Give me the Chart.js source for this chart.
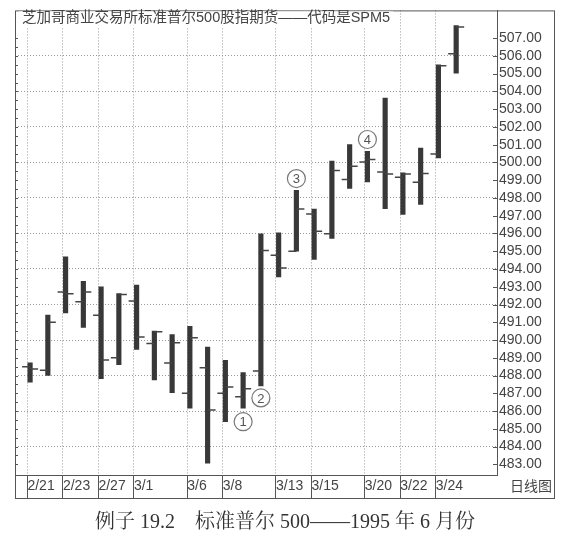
<!DOCTYPE html>
<html>
<head>
<meta charset="utf-8">
<script src="https://cdn.jsdelivr.net/npm/chart.js@4.4.1/dist/chart.umd.min.js"></script>
<style>
  body { margin: 0; background: #fff; }
  canvas { display: block; }
</style>
</head>
<body>
<canvas id="chart" width="570" height="550"></canvas>
<script>
// daily bars, S&P 500 June contract
var days = ['2/21','2/22','2/23','2/24','2/27','2/28','3/1','3/2','3/3','3/6','3/7','3/8','3/9',
            '3/10','3/13','3/14','3/15','3/16','3/17','3/20','3/21','3/22','3/23','3/24','3/27'];
var tickDays = [0, 2, 4, 6, 9, 11, 14, 16, 19, 21, 23];
var high  = [488.72, 491.40, 494.68, 493.30, 493.00, 492.62, 493.10, 490.50, 490.30, 490.77, 489.60, 488.86, 488.16,
             495.98, 496.03, 498.43, 497.37, 500.07, 501.00, 500.63, 503.63, 499.41, 500.81, 505.50, 507.71];
var low   = [487.63, 488.00, 491.53, 490.71, 487.82, 488.61, 489.47, 487.75, 487.03, 486.16, 483.06, 485.40, 486.16,
             487.41, 493.56, 495.00, 494.54, 495.72, 498.53, 498.90, 497.40, 497.07, 497.63, 500.25, 505.03];
var open  = [488.50, 488.30, 492.70, 492.15, 491.40, 489.00, 492.20, 489.81, 488.70, 487.00, 488.44, 487.00, 486.81,
             488.25, 494.78, 495.00, 497.10, 495.98, 499.04, 500.03, 499.46, 499.17, 498.88, 500.48, 506.12];
var close = [488.37, 491.00, 492.60, 492.70, 488.87, 492.57, 490.17, 490.46, 489.85, 490.13, 486.06, 487.35, 487.26,
             495.04, 494.06, 497.38, 496.13, 499.54, 499.78, 500.16, 499.35, 499.35, 499.37, 505.45, 507.62];
var priceTicks = [483, 484, 485, 486, 487, 488, 489, 490, 491, 492, 493, 494, 495,
                  496, 497, 498, 499, 500, 501, 502, 503, 504, 505, 506, 507];
// circled notes
var noteText  = ['1', '2', '3', '4'];
var noteDay   = [12, 13, 15, 19];
var notePrice = [485.4, 486.74, 499.09, 501.29];

var titleText = '芝加哥商业交易所标准普尔500股指期货——代码是SPM5';
var captionText = '例子 19.2    标准普尔 500——1995 年 6 月份';

Chart.defaults.font.family = '"Liberation Sans", Arial, "Noto Sans CJK SC", sans-serif';
Chart.defaults.font.size = 14;
Chart.defaults.color = '#444';

var bars = [];
for (var i = 0; i < high.length; i++) {
  bars.push({ x: i, y: [low[i], high[i]] });
}

var ohlcTicks = {
  id: 'ohlcTicks',
  afterDatasetsDraw: function(chart) {
    var ctx = chart.ctx, xs = chart.scales.x, ys = chart.scales.y;
    ctx.save();
    ctx.strokeStyle = '#444';
    ctx.lineWidth = 1.5;
    for (var i = 0; i < open.length; i++) {
      var x = xs.getPixelForValue(i);
      var yo = ys.getPixelForValue(open[i]);
      var yc = ys.getPixelForValue(close[i]);
      ctx.beginPath();
      ctx.moveTo(x - 8, yo); ctx.lineTo(x, yo);
      ctx.moveTo(x, yc); ctx.lineTo(x + 8, yc);
      ctx.stroke();
    }
    // circled numbers
    ctx.font = '13px "Liberation Sans", Arial, sans-serif';
    ctx.textAlign = 'center';
    ctx.textBaseline = 'middle';
    for (var j = 0; j < noteText.length; j++) {
      var cx = xs.getPixelForValue(noteDay[j]);
      var cy = ys.getPixelForValue(notePrice[j]);
      ctx.beginPath();
      ctx.arc(cx, cy, 9, 0, Math.PI * 2);
      ctx.fillStyle = '#fff';
      ctx.fill();
      ctx.strokeStyle = '#777';
      ctx.lineWidth = 1.2;
      ctx.stroke();
      ctx.fillStyle = '#555';
      ctx.fillText(noteText[j], cx, cy + 1);
    }
    ctx.restore();
  }
};

var frame = {
  id: 'frame',
  afterDraw: function(chart) {
    var ctx = chart.ctx, a = chart.chartArea, xs = chart.scales.x, ys = chart.scales.y;
    ctx.save();
    ctx.strokeStyle = '#555';
    ctx.lineWidth = 1;
    ctx.strokeRect(a.left + 0.5, a.top + 0.5, ys.right - a.left - 1, xs.bottom - a.top);
    // small inward ticks, left every half point, right every point
    ctx.beginPath();
    for (var v = priceTicks[0]; v <= priceTicks[priceTicks.length - 1]; v += 0.5) {
      var y = Math.round(ys.getPixelForValue(v)) + 0.5;
      ctx.moveTo(a.left, y); ctx.lineTo(a.left + 3, y);
    }
    for (var k = 0; k < priceTicks.length; k++) {
      var y2 = Math.round(ys.getPixelForValue(priceTicks[k])) + 0.5;
      ctx.moveTo(a.right - 4, y2); ctx.lineTo(a.right, y2);
    }
    ctx.stroke();
    // title inside the plot
    ctx.font = '14.5px "Liberation Sans", Arial, "Noto Sans CJK SC", sans-serif';
    var w = ctx.measureText(titleText).width;
    ctx.fillStyle = '#fff';
    ctx.fillRect(a.left + 4, a.top + 1, w + 6, 16);
    ctx.fillStyle = '#444';
    ctx.textBaseline = 'middle';
    ctx.textAlign = 'left';
    ctx.fillText(titleText, a.left + 7, a.top + 8);
    // chart kind in the date row
    ctx.font = '14px "Liberation Sans", Arial, "Noto Sans CJK SC", sans-serif';
    ctx.textAlign = 'right';
    ctx.fillText('日线图', ys.right - 3, xs.top + 12);
    ctx.restore();
  }
};

new Chart(document.getElementById('chart'), {
  type: 'bar',
  data: {
    datasets: [{
      data: bars,
      backgroundColor: '#383838',
      borderWidth: 0,
      barThickness: 4.5
    }]
  },
  options: {
    responsive: false,
    animation: false,
    layout: { padding: { left: 15, right: 15, top: 9, bottom: 12 } },
    plugins: {
      legend: { display: false },
      tooltip: { enabled: false },
      title: {
        display: true,
        position: 'bottom',
        text: captionText,
        color: '#333',
        font: { family: '"Liberation Serif", "Noto Serif CJK SC", "Noto Sans CJK SC", serif', size: 20, weight: 'normal' },
        padding: { top: 13, bottom: 3 }
      }
    },
    scales: {
      x: {
        type: 'linear',
        min: -0.85,
        max: 26.3,
        offset: false,
        afterBuildTicks: function(s) {
          s.ticks = tickDays.map(function(d) { return { value: d - 0.15 }; });
        },
        afterFit: function(s) { s.height = 23; },
        ticks: {
          align: 'start',
          padding: -20,
          maxRotation: 0,
          autoSkip: false,
          color: '#444',
          callback: function(v) { return days[Math.round(v)]; }
        },
        grid: {
          offset: false,
          color: '#999',
          tickLength: 23,
          tickColor: '#555',
          tickWidth: 1,
          tickBorderDash: []
        },
        border: { color: '#555', dash: [1, 2] }
      },
      y: {
        type: 'linear',
        position: 'right',
        min: 482.4,
        max: 508.56,
        afterBuildTicks: function(s) {
          s.ticks = priceTicks.map(function(v) { return { value: v }; });
        },
        afterFit: function(s) { s.width = 58; },
        ticks: {
          autoSkip: false,
          padding: 2,
          color: '#444',
          callback: function(v) { return v.toFixed(2); }
        },
        grid: {
          drawTicks: false,
          color: function(c) { return c.tick && c.tick.value % 2 === 0 ? '#999' : 'rgba(0,0,0,0)'; }
        },
        border: { color: '#555', dash: [1, 2] }
      }
    }
  },
  plugins: [ohlcTicks, frame]
});
</script>
</body>
</html>
